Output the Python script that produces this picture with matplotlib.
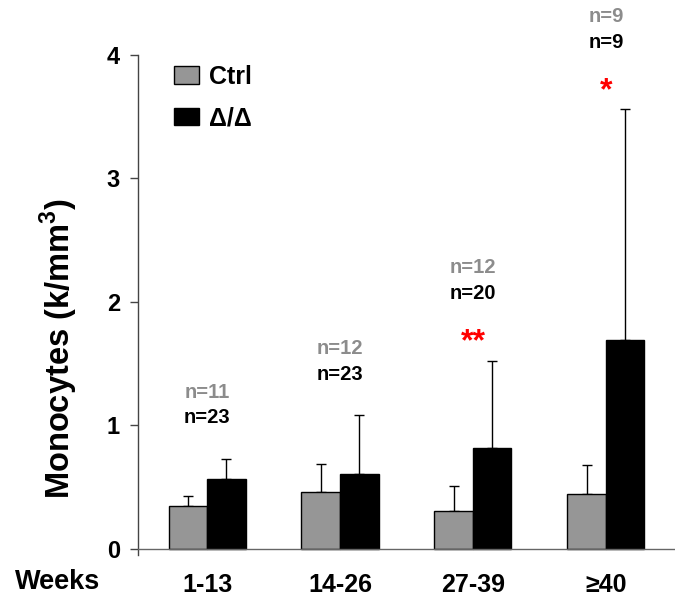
import matplotlib
matplotlib.use('Agg')
import matplotlib.pyplot as plt
import numpy as np

plt.rcParams['font.family'] = ['Liberation Sans', 'DejaVu Sans']
plt.rcParams['font.weight'] = 'bold'
plt.rcParams['axes.labelweight'] = 'bold'
plt.rcParams['mathtext.fontset'] = 'custom'
plt.rcParams['mathtext.rm'] = 'Liberation Sans:bold'
plt.rcParams['mathtext.bf'] = 'Liberation Sans:bold'

# Data
groups = ['1-13', '14-26', '27-39', '\u226540']
ctrl_mean = [0.35, 0.46, 0.31, 0.445]
ctrl_err = [0.08, 0.23, 0.195, 0.235]
ko_mean = [0.565, 0.605, 0.82, 1.69]
ko_err = [0.165, 0.48, 0.705, 1.87]
n_ctrl = [11, 12, 12, 9]
n_ko = [23, 23, 20, 9]
signif = ['', '', '**', '*']

gray = '#969696'
x = np.arange(len(groups))
w = 0.29

fig = plt.figure(figsize=(6.75, 5.97), dpi=100)
ax = fig.add_axes([0.2044, 0.0704, 0.7956, 0.8375])

ax.bar(x - w / 2, ctrl_mean, w, color=gray, edgecolor='black', linewidth=1, label='Ctrl', zorder=2)
ax.bar(x + w / 2, ko_mean, w, color='black', edgecolor='black', linewidth=1, label='\u0394/\u0394', zorder=2)
ax.errorbar(x - w / 2, ctrl_mean, yerr=[np.zeros(4), ctrl_err], fmt='none', ecolor='black',
            elinewidth=1, capsize=3.5, capthick=1, zorder=1)
ax.errorbar(x + w / 2, ko_mean, yerr=[np.zeros(4), ko_err], fmt='none', ecolor='black',
            elinewidth=1, capsize=3.5, capthick=1, zorder=1)

# n labels and significance stars above each group
for i in range(len(groups)):
    top = ko_mean[i] + ko_err[i]
    if signif[i]:
        ax.text(x[i], top + 0.15, signif[i], color='red', fontsize=23,
                ha='center', va='center', clip_on=False)
        ny = top + 0.54
    else:
        ny = top + 0.33
    ax.text(x[i], ny, f'n={n_ko[i]}', color='black', fontsize=14.5, ha='center', va='center', clip_on=False)
    ax.text(x[i], ny + 0.21, f'n={n_ctrl[i]}', color='#8c8c8c', fontsize=14.5, ha='center', va='center',
            clip_on=False)

ax.axhline(0, color='#666666', linewidth=1, zorder=3)
ax.set_xlim(-0.52, 3.52)
ax.set_ylim(-0.05, 4.0)
ax.set_yticks([0, 1, 2, 3, 4])
ax.tick_params(axis='y', labelsize=17, length=6, width=1, color='#444444', pad=7)
ax.set_xticks(x)
ax.set_xticklabels(groups, fontsize=18)
ax.tick_params(axis='x', length=0, pad=13)
for s in ['top', 'right', 'bottom']:
    ax.spines[s].set_visible(False)
ax.spines['left'].set_color('#444444')
ax.spines['left'].set_linewidth(1)

ax.set_ylabel(r'Monocytes (k/mm$^{3}$)', fontsize=23.5)
ax.yaxis.set_label_coords(-0.108, 0.412)
fig.text(0.022, 0.025, 'Weeks', fontsize=19.5, ha='left', va='center')

ax.legend(loc='upper left', bbox_to_anchor=(0.04, 1.01), frameon=False, fontsize=18,
          handlelength=1.0, handleheight=0.7, handletextpad=0.4, labelspacing=0.7,
          borderaxespad=0.2)

fig.savefig('out.png', dpi=100)
